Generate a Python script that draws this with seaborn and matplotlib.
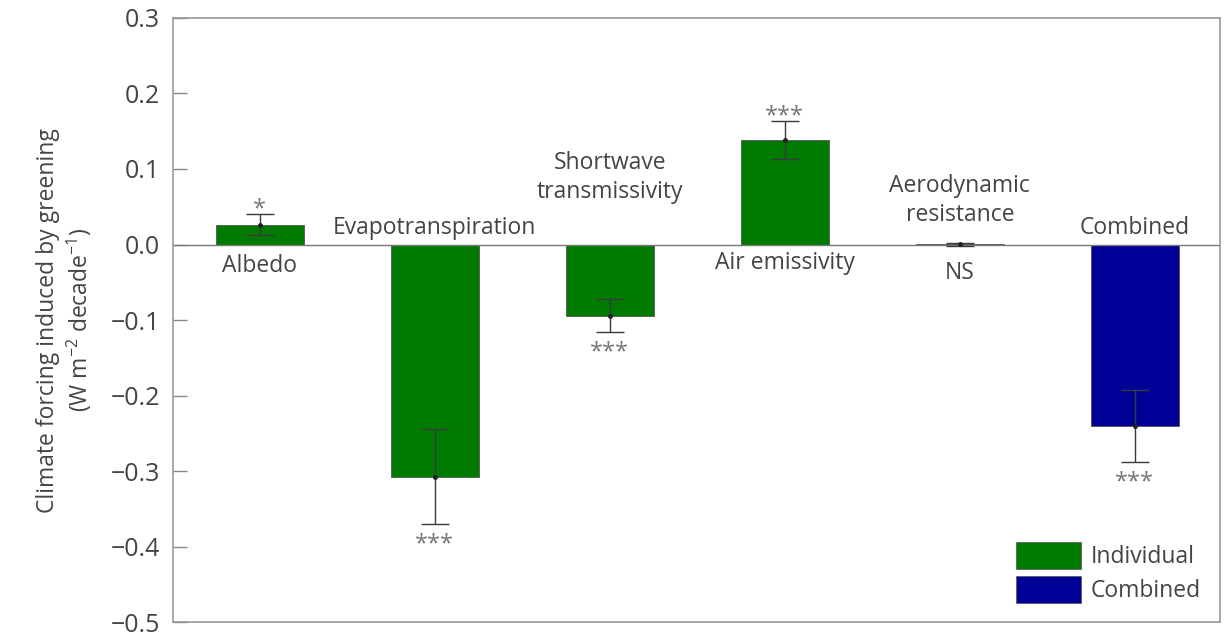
import matplotlib
matplotlib.use("Agg")
import matplotlib.pyplot as plt
import seaborn as sns
import pandas as pd
from matplotlib.patches import Patch

factors = ["Albedo", "Evapotranspiration", "Shortwave\ntransmissivity",
           "Air emissivity", "Aerodynamic\nresistance", "Combined"]
forcing = [0.026, -0.307, -0.094, 0.138, 0.0005, -0.240]
forcing_err = [0.014, 0.063, 0.022, 0.025, 0.002, 0.048]
kind = ["Individual", "Individual", "Individual", "Individual", "Individual", "Combined"]
signif = ["*", "***", "***", "***", "NS", "***"]

GREEN = "#007a00"
BLUE = "#000096"
TXT = "#444444"

sns.set_theme(style="white")
plt.rcParams["font.family"] = ["Open Sans", "DejaVu Sans"]
plt.rcParams["mathtext.fontset"] = "custom"
plt.rcParams["mathtext.rm"] = "Open Sans"

df = pd.DataFrame({"factor": factors, "forcing": forcing, "err": forcing_err, "kind": kind})

fig, ax = plt.subplots(figsize=(12.26, 6.37), dpi=100)
fig.subplots_adjust(left=0.141, right=0.995, top=0.972, bottom=0.023)

sns.barplot(data=df, x="factor", y="forcing", hue="kind", dodge=False,
            palette={"Individual": GREEN, "Combined": BLUE}, width=0.5, saturation=1,
            errorbar=None, edgecolor="#555555", linewidth=0.6, legend=False, ax=ax)

pos = list(range(len(factors)))
ax.errorbar(pos, df["forcing"], yerr=df["err"], fmt="o", ms=2.5, color="#222222",
            ecolor="#3a3a3a", elinewidth=1.0, capsize=10, capthick=1.0, zorder=5)

ax.axhline(0, color="#777777", lw=1.0, zorder=1)

# names go on the side opposite the bar, significance beyond the error bar
name_offset = [-21, 17, 67, -18, 44, 17]
for i, (name, v, e, s, off) in enumerate(zip(factors, forcing, forcing_err, signif, name_offset)):
    ax.annotate(name, (i, 0), xytext=(0, off), textcoords="offset pixels",
                ha="center", va="center", fontsize=16.5, color=TXT, linespacing=1.25)
    if s == "NS":
        ax.annotate(s, (i, 0), xytext=(0, -28), textcoords="offset pixels",
                    ha="center", va="center", fontsize=16.5, color=TXT)
    elif v > 0:
        ax.annotate(s, (i, v + e), xytext=(0, 5), textcoords="offset pixels",
                    ha="center", va="center", fontsize=17, color="#777777")
    else:
        ax.annotate(s, (i, v - e), xytext=(0, -20), textcoords="offset pixels",
                    ha="center", va="center", fontsize=17, color="#777777")

ax.set_ylim(-0.5, 0.3)
ax.set_xlim(-0.497, 5.486)
ax.set_yticks([0.3, 0.2, 0.1, 0.0, -0.1, -0.2, -0.3, -0.4, -0.5])
ax.set_yticklabels(["0.3", "0.2", "0.1", "0.0", "\u22120.1", "\u22120.2",
                    "\u22120.3", "\u22120.4", "\u22120.5"])
ax.set_xticks([])
ax.set_xlabel("")
ax.set_ylabel("Climate forcing induced by greening\n(W m$^{\u22122}$ decade$^{\u22121}$)",
              fontsize=16.5, color=TXT, labelpad=12, linespacing=1.2)
ax.tick_params(axis="y", direction="in", length=10, width=1, color="#888888",
               labelsize=18, labelcolor=TXT, pad=9, left=True)
for sp in ax.spines.values():
    sp.set_color("#999999")
    sp.set_linewidth(1.2)

handles = [Patch(facecolor=GREEN, edgecolor="#555555", lw=0.5, label="Individual"),
           Patch(facecolor=BLUE, edgecolor="#555555", lw=0.5, label="Combined")]
ax.legend(handles=handles, loc="lower right", frameon=False, fontsize=16.5,
          handlelength=2.85, handleheight=1.45, handletextpad=0.4, labelspacing=0.3,
          labelcolor=TXT, borderaxespad=0.45)

fig.savefig("out.png", dpi=100)
